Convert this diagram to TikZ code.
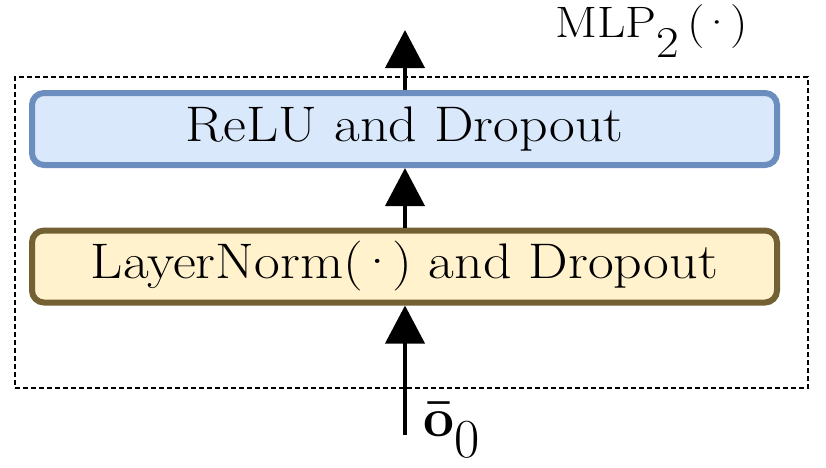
\documentclass[tikz,border=0pt]{standalone}
\usepackage{graphicx}
\usetikzlibrary{arrows.meta}
\definecolor{bluefill}{HTML}{DAE8FC}
\definecolor{bluedraw}{HTML}{6C8EBF}
\definecolor{yelfill}{HTML}{FFF2CC}
\definecolor{yeldraw}{RGB}{115,97,51}
\newcommand{\wider}[1]{\scalebox{1.12}[1]{#1}}
\newcommand{\mydot}{(\kern-0.1em\textperiodcentered\kern-0.1em)}
\begin{document}
\begin{tikzpicture}[x=1pt,y=-1pt,
  blk/.style={rounded corners=12pt,line width=6pt,inner sep=0pt,minimum width=745pt,minimum height=72pt,font=\fontsize{50}{60}\selectfont},
  arr/.style={line width=4pt,-{Triangle[width=39pt,length=38pt]}},
  outer/.style={draw,line width=1.3pt,dash pattern=on 5pt off 3pt},
  lbl/.style={inner sep=0pt,anchor=base west}]
\useasboundingbox (0,0) rectangle (826,467);
\node[outer,minimum width=793pt,minimum height=311pt,inner sep=0pt] (box) at (411.5,232.5) {};
\node[blk,draw=bluedraw,fill=bluefill] (relu) at (404.5,129) {\wider{ReLU and Dropout}};
\node[blk,draw=yeldraw,fill=yelfill] (ln) at (404.5,266.5) {\wider{LayerNorm\mydot{} and Dropout}};
\coordinate (in) at (405,435);
\coordinate (out) at (405,30);
\node[lbl,font=\fontsize{55}{64}\selectfont] (o) at (423,436) {\textbf{\=o}\raisebox{-21pt}{0}};
\node[lbl,font=\fontsize{44}{54}\selectfont] (mlp) at (555,37) {\wider{MLP\raisebox{-20pt}{2}\,\mydot}};
\draw[arr] (in) -- (ln.south -| in);
\draw[arr] (ln.north -| in) -- (relu.south -| in);
\draw[arr] (relu.north -| in) -- (out);
\end{tikzpicture}
\end{document}
